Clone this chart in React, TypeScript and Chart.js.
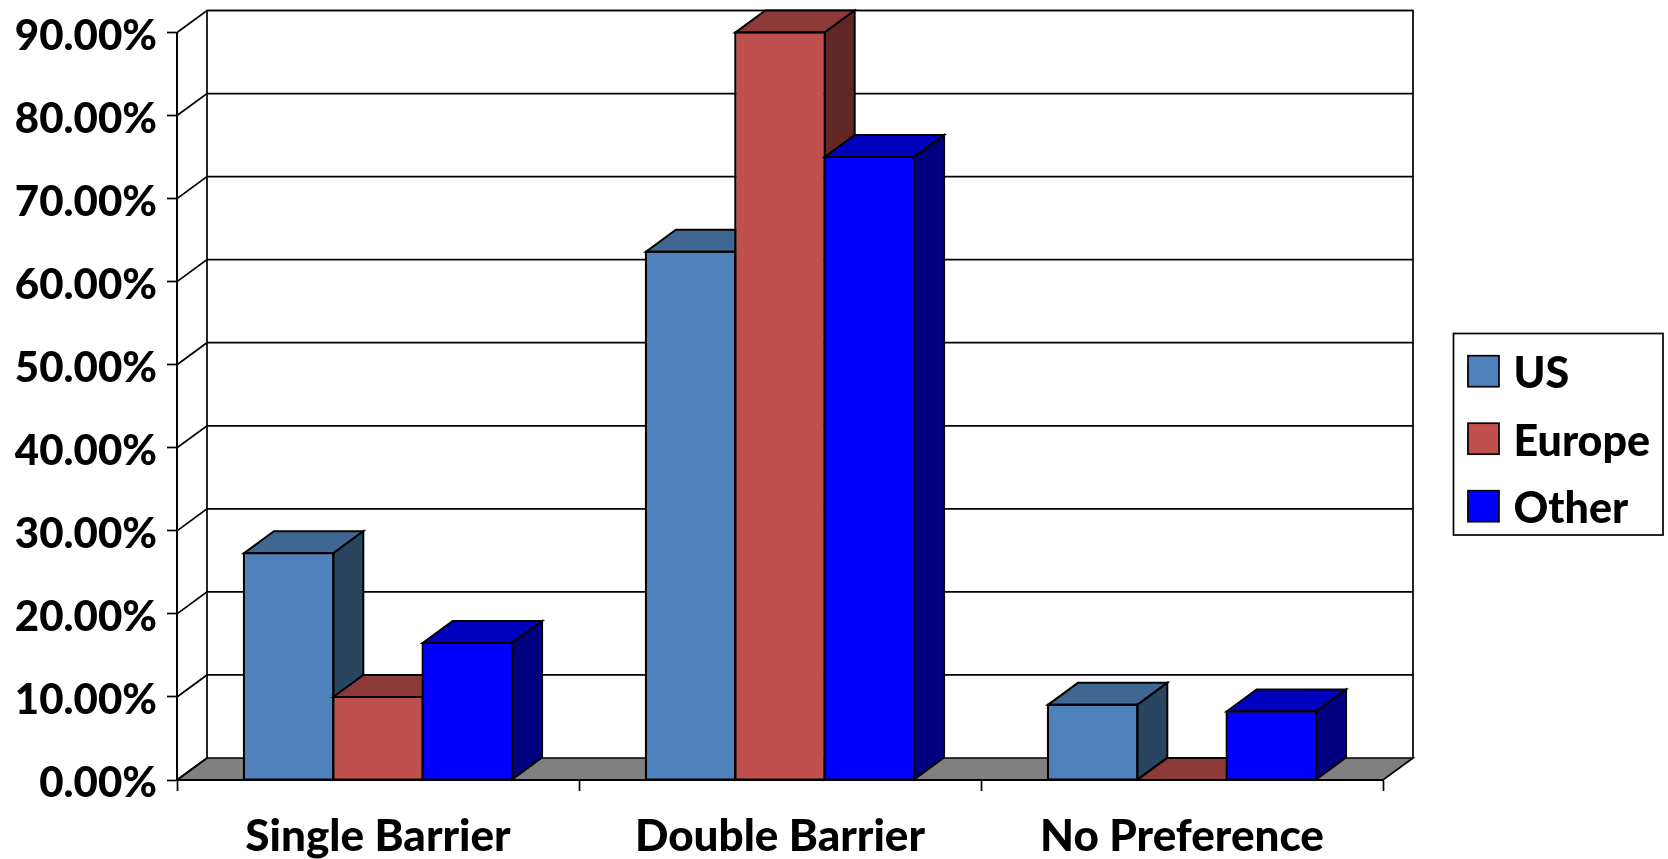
import React, { useEffect, useRef } from "react";
import { Chart, registerables } from "chart.js";

Chart.register(...registerables);

const categories = ["Single Barrier", "Double Barrier", "No Preference"];
const seriesNames = ["US", "Europe", "Other"];
const usValues = [27.3, 63.6, 9.05];
const europeValues = [10.0, 90.0, 0];
const otherValues = [16.5, 75.0, 8.25];
const frontColors = ["#4F81BD", "#C0504D", "#0000FF"];
const topColors = ["#3F6792", "#8C3B39", "#0000BF"];
const sideColors = ["#2A4560", "#622827", "#000080"];
const FONT = "Lato";
const WEIGHT = "900";
const DX = 30;
const DY = 22;
const LINE = 1.7;
const BAR_LINE = 2;

function path(ctx: CanvasRenderingContext2D, pts: number[][], fill: string | null, width = LINE) {
  ctx.beginPath();
  pts.forEach((p, i) => (i ? ctx.lineTo(p[0], p[1]) : ctx.moveTo(p[0], p[1])));
  ctx.closePath();
  if (fill) {
    ctx.fillStyle = fill;
    ctx.fill();
  }
  ctx.lineWidth = width;
  ctx.lineJoin = "miter";
  ctx.strokeStyle = "#000";
  ctx.stroke();
}

const walls3d = {
  id: "walls3d",
  beforeDraw(chart: any) {
    const { ctx, chartArea: a, scales } = chart;
    const y = scales.y;
    ctx.save();
    ctx.lineWidth = LINE;
    ctx.strokeStyle = "#000";
    const top = y.top - DY;
    const back = y.bottom - DY;
    path(ctx, [[a.left, a.bottom], [a.right, a.bottom], [a.right + DX, back], [a.left + DX, back]], "#808080");
    ctx.beginPath();
    ctx.moveTo(a.left + DX, back);
    ctx.lineTo(a.left + DX, top);
    ctx.lineTo(a.right + DX, top);
    ctx.lineTo(a.right + DX, back);
    ctx.stroke();
    y.ticks.forEach((t: any) => {
      const py = y.getPixelForValue(t.value);
      ctx.beginPath();
      ctx.moveTo(a.left, py);
      ctx.lineTo(a.left + DX, py - DY);
      if (t.value > 0) ctx.lineTo(a.right + DX, py - DY);
      ctx.stroke();
    });
    ctx.restore();
  },
  // Series are painted left to right, so each one covers the side face of the one before it.
  beforeDatasetsDraw(chart: any) {
    const { ctx } = chart;
    seriesNames.forEach((_, idx) => {
      const meta = chart.getDatasetMeta(idx);
      ctx.save();
      meta.data.forEach((bar: any) => {
        const half = bar.width / 2;
        const l = bar.x - half;
        const r = bar.x + half;
        const t = bar.y;
        const b = bar.base;
        path(ctx, [[l, t], [r, t], [r + DX, t - DY], [l + DX, t - DY]], topColors[idx], BAR_LINE);
        if (b - t > 0.5) path(ctx, [[r, t], [r + DX, t - DY], [r + DX, b - DY], [r, b]], sideColors[idx], BAR_LINE);
      });
      ctx.restore();
      meta.controller.draw();
      ctx.save();
      meta.data.forEach((bar: any) => {
        const half = bar.width / 2;
        path(ctx, [[bar.x - half, bar.y], [bar.x + half, bar.y], [bar.x + half, bar.base], [bar.x - half, bar.base]], null, BAR_LINE);
      });
      ctx.restore();
    });
    return false;
  },
  afterLayout(chart: any) {
    const lg = chart.legend;
    const pad = lg.options.labels.padding;
    lg.left = 1468 - pad;
    lg.right = lg.left + lg.width;
    lg.top = 141.7;
    lg.bottom = 741.7;
  },
  afterDraw(chart: any) {
    const { ctx } = chart;
    ctx.save();
    ctx.lineWidth = LINE;
    ctx.strokeStyle = "#000";
    ctx.strokeRect(1453.5, 333.5, 209.5, 201.5);
    frontColors.forEach((c, i) => {
      ctx.fillStyle = c;
      ctx.fillRect(1468, 355.7 + 67.5 * i, 31, 31);
      ctx.strokeRect(1468, 355.7 + 67.5 * i, 31, 31);
    });
    ctx.restore();
  },
};

export default function App() {
  const ref = useRef<HTMLCanvasElement>(null);
  useEffect(() => {
    const values = [usValues, europeValues, otherValues];
    const chart = new Chart(ref.current as HTMLCanvasElement, {
      type: "bar",
      data: {
        labels: categories,
        datasets: seriesNames.map((label, i) => ({
          label,
          data: values[i],
          backgroundColor: frontColors[i],
          borderColor: "#000",
          borderWidth: 1,
          xAxisID: "x",
          yAxisID: "y",
        })),
      },
      options: {
        animation: false,
        responsive: false,
        devicePixelRatio: 1,
        layout: { padding: { top: 32.5, bottom: 0, left: 0, right: 0 } },
        datasets: { bar: { categoryPercentage: 0.667, barPercentage: 1 } },
        plugins: {
          tooltip: { enabled: false },
          legend: {
            position: "right",
            labels: {
              boxWidth: 24,
              boxHeight: 20,
              padding: 24.5,
              color: "#000",
              font: { family: FONT, size: 43, weight: WEIGHT },
            },
          },
        },
        scales: {
          x: {
            grid: { drawOnChartArea: false, color: "#000", tickLength: 11, tickWidth: LINE, offset: true },
            border: { color: "#000", width: BAR_LINE },
            ticks: { color: "#000", padding: 19, maxRotation: 0, font: { family: FONT, size: 44, weight: WEIGHT } },
            afterFit: (s: any) => {
              s.height = 79;
              s.paddingLeft = 0;
              s.paddingRight = 0;
            },
          },
          y: {
            min: 0,
            max: 90,
            grid: { drawOnChartArea: false, color: "#000", tickLength: 10, tickWidth: LINE },
            border: { color: "#000", width: BAR_LINE },
            ticks: {
              stepSize: 10,
              color: "#000",
              padding: 10,
              labelOffset: 3.5,
              font: { family: FONT, size: 42, weight: WEIGHT },
              callback: (v: any) => Number(v).toFixed(2) + "%",
            },
            afterFit: (s: any) => {
              s.width = 177;
              s.paddingTop = 0;
              s.paddingBottom = 0;
            },
          },
          spacer: {
            type: "linear",
            position: "right",
            display: true,
            grid: { display: false },
            border: { display: false },
            ticks: { display: false },
            afterFit: (s: any) => {
              s.width = 1668 - 1383 - s.chart.legend.width;
            },
          },
        },
      } as any,
      plugins: [walls3d],
    });
    return () => chart.destroy();
  }, []);
  return (
    <div style={{ position: "absolute", left: 0, top: 0, width: 1668, height: 859, background: "#fff" }}>
      <canvas ref={ref} width={1668} height={859} style={{ display: "block" }} />
    </div>
  );
}
